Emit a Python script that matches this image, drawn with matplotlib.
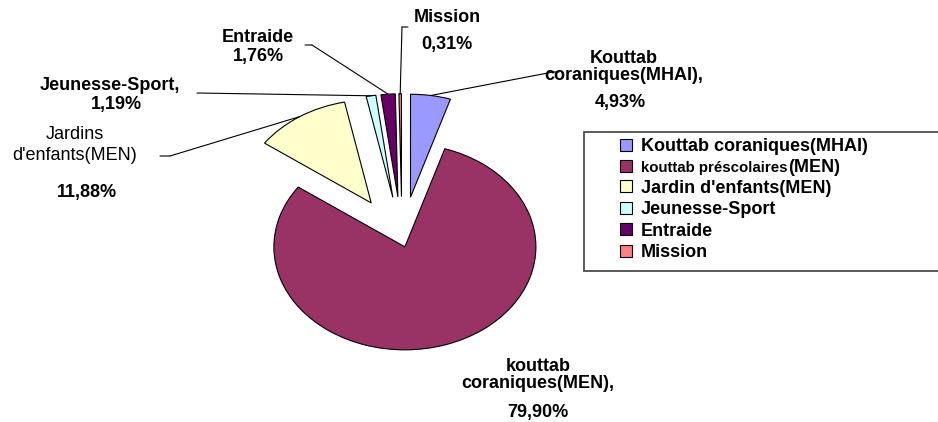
import matplotlib
matplotlib.use("Agg")
import matplotlib.pyplot as plt
from matplotlib.patches import Rectangle
import numpy as np

plt.rcParams['font.family'] = ['Liberation Sans', 'DejaVu Sans']

# data
values = [4.93, 79.90, 11.88, 1.19, 1.76, 0.31]
legend_labels = ["Kouttab coraniques(MHAI)", "kouttab préscolaires(MEN)",
                 "Jardin d'enfants(MEN)", "Jeunesse-Sport", "Entraide", "Mission"]
slice_names = ["Kouttab\ncoraniques(MHAI),", "kouttab\ncoraniques(MEN),",
               "Jardins\nd'enfants(MEN)", "Jeunesse-Sport,", "Entraide", "Mission"]
colors = ["#9999FF", "#993366", "#FFFFCC", "#CCFFFF", "#660066", "#FF8080"]
explode = [0.42, 0.07, 0.43, 0.42, 0.42, 0.42]

W, H = 938, 422
fig = plt.figure(figsize=(W / 100, H / 100), dpi=100)


def fp(x, y):
    # top-left pixel -> figure fraction
    return x / W, 1 - y / H


ax = fig.add_axes([205.5 / W, 27.5 / H, 393 / W, 309 / H])
wedges, _ = ax.pie(values, colors=colors, explode=explode, startangle=90,
                   counterclock=False,
                   wedgeprops=dict(edgecolor='black', linewidth=0.8))
ax.set_aspect('auto')
ax.set_xlim(-1.5, 1.5)
ax.set_ylim(-1.5, 1.5)
ax.axis('off')

pct = [f"{v:.2f}%".replace('.', ',') for v in values]


def arc_point(w):
    mid = np.deg2rad((w.theta1 + w.theta2) / 2)
    cx, cy = w.center
    return cx + w.r * np.cos(mid), cy + w.r * np.sin(mid)


def leader(w, p1, p2):
    ax.annotate('', xy=arc_point(w), xycoords='data', xytext=fp(*p1),
                textcoords='figure fraction',
                arrowprops=dict(arrowstyle='-', lw=0.8, color='black',
                                shrinkA=0, shrinkB=0))
    ax.annotate('', xy=fp(*p1), xycoords='figure fraction', xytext=fp(*p2),
                textcoords='figure fraction',
                arrowprops=dict(arrowstyle='-', lw=0.8, color='black',
                                shrinkA=0, shrinkB=0))


fs = 13
bold = dict(fontsize=fs, fontweight='bold', ha='center', va='center')

# Kouttab coraniques (MHAI)
fig.text(*fp(624, 67), slice_names[0], linespacing=1.0, **bold)
fig.text(*fp(620, 103), pct[0], **bold)
leader(wedges[0], (553, 72), (559, 72))

# kouttab coraniques (MEN)
fig.text(*fp(538, 375), slice_names[1], linespacing=0.95, **bold)
fig.text(*fp(538, 412), pct[1], **bold)

# Jardins d'enfants
fig.text(*fp(75, 145), slice_names[2], linespacing=1.25, fontsize=fs,
         ha='center', va='center')
fig.text(*fp(87, 193), pct[2], **bold)
leader(wedges[2], (170, 156), (160, 156))

# Jeunesse-Sport
fig.text(*fp(110, 85), slice_names[3], **bold)
fig.text(*fp(116, 104), pct[3], **bold)
leader(wedges[3], (197, 93), (197, 93))

# Entraide
fig.text(*fp(258, 37), slice_names[4], **bold)
fig.text(*fp(258, 57), pct[4], **bold)
leader(wedges[4], (312, 45), (305, 45))

# Mission
fig.text(*fp(447, 17), slice_names[5], **bold)
fig.text(*fp(447, 44), pct[5], **bold)
leader(wedges[5], (402, 27), (408, 27))

# legend box
fig.patches.append(Rectangle(fp(584, 271), (W - 584 + 5) / W, (271 - 132) / H,
                             transform=fig.transFigure, facecolor='white',
                             edgecolor='#4d4d4d', linewidth=1.3, zorder=0))
# second entry: first part drawn smaller, "(MEN)" added at full size
small, rest = legend_labels[1].split('(')
shown = list(legend_labels)
shown[1] = small
leg = fig.legend(wedges, shown, loc='upper left',
                 bbox_to_anchor=fp(620, 138), frameon=False,
                 prop=dict(size=fs, weight='bold'), handlelength=0.67,
                 handleheight=0.67, handletextpad=0.5, labelspacing=0.25,
                 borderpad=0, borderaxespad=0)
for h in leg.legend_handles:
    h.set_linewidth(0.8)
t2 = leg.get_texts()[1]
t2.set_fontsize(10.8)
fig.canvas.draw()
bb = t2.get_window_extent()
base = t2.get_transform().transform(t2.get_position())
fig.text(bb.x1 / W, base[1] / H, '(' + rest, fontsize=fs, fontweight='bold',
         ha='left', va='baseline')

fig.savefig("out.png", dpi=100)
